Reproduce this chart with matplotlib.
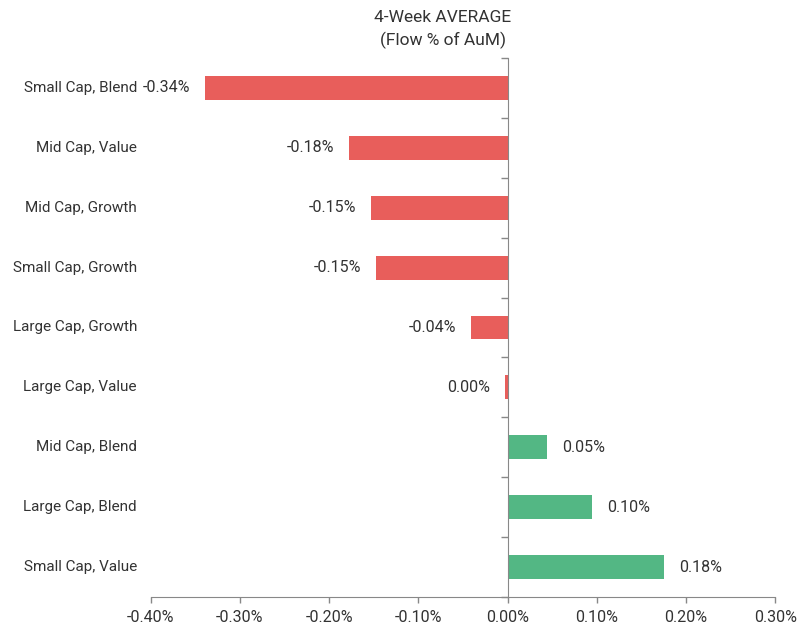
import matplotlib
matplotlib.use("Agg")
import matplotlib.pyplot as plt
import matplotlib.transforms as mtransforms
import numpy as np

categories = ["Small Cap, Blend", "Mid Cap, Value", "Mid Cap, Growth", "Small Cap, Growth",
              "Large Cap, Growth", "Large Cap, Value", "Mid Cap, Blend", "Large Cap, Blend",
              "Small Cap, Value"]
values = [-0.339, -0.1775, -0.153, -0.147, -0.041, -0.003, 0.044, 0.0946, 0.175]
value_labels = ["-0.34%", "-0.18%", "-0.15%", "-0.15%", "-0.04%", "0.00%", "0.05%", "0.10%", "0.18%"]
xticks = [-0.4, -0.3, -0.2, -0.1, 0.0, 0.1, 0.2, 0.3]
xtick_labels = ["-0.40%", "-0.30%", "-0.20%", "-0.10%", "0.00%", "0.10%", "0.20%", "0.30%"]

RED = "#E85E5B"
GREEN = "#53B784"
TXT = "#333333"
AX = "#888888"

plt.rcParams['font.family'] = ['Roboto', 'DejaVu Sans']

fig = plt.figure(figsize=(8, 6.25), dpi=100)
ax = fig.add_axes([0.1884, 0.0448, 0.7808, 0.8624])

y = np.arange(len(categories))
colors = [RED if v < 0 else GREEN for v in values]
ax.barh(y, values, height=0.4, color=colors, zorder=2)

for yi, v, lab in zip(y, values, value_labels):
    if v < 0:
        ax.annotate(lab, (v, yi), xytext=(-11, 0), textcoords="offset points",
                    ha="right", va="center", fontsize=11.5, color=TXT)
    else:
        ax.annotate(lab, (v, yi), xytext=(11, 0), textcoords="offset points",
                    ha="left", va="center", fontsize=11.5, color=TXT)

ax.set_xlim(-0.4, 0.3)
ax.set_ylim(len(categories) - 0.5, -0.5)

ax.set_xticks(xticks)
ax.set_xticklabels(xtick_labels)
ax.tick_params(axis="x", direction="out", length=4, width=1, color=AX,
               labelsize=11.5, labelcolor=TXT, pad=5)

# y-axis spine at zero with boundary ticks
ax.spines["left"].set_position(("data", 0))
ax.spines["left"].set_color(AX)
ax.spines["bottom"].set_color(AX)
ax.spines["top"].set_visible(False)
ax.spines["right"].set_visible(False)
ax.set_yticks(np.arange(-0.5, len(categories), 1.0))
ax.set_yticklabels([])
ax.tick_params(axis="y", direction="out", length=5, width=1, color=AX)

trans = mtransforms.blended_transform_factory(ax.transAxes, ax.transData)
for yi, c in zip(y, categories):
    ax.text(-0.022, yi, c, transform=trans, ha="right", va="center",
            fontsize=11, color=TXT)

fig.text(443 / 800, 1 - 17 / 625, "4-Week AVERAGE", ha="center", va="center",
         fontsize=12.5, color=TXT)
fig.text(443 / 800, 1 - 40 / 625, "(Flow % of AuM)", ha="center", va="center",
         fontsize=12.5, color=TXT)

fig.savefig("out.png", dpi=100)
